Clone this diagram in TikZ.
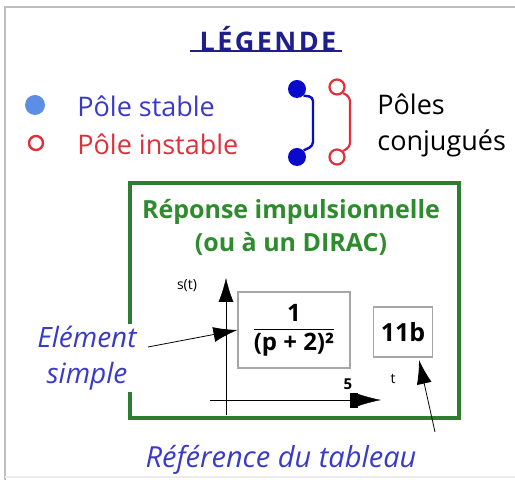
\documentclass[tikz,border=0pt]{standalone}
\usepackage{fontspec}
\setmainfont{Open Sans}
\usepackage{xcolor}
\usetikzlibrary{arrows.meta, positioning}

\definecolor{titleblue}{HTML}{1E1E8C}
\definecolor{textblue}{HTML}{3A3AC8}
\definecolor{dotblue}{HTML}{5C8EE6}
\definecolor{conjblue}{HTML}{0A0ACC}
\definecolor{polered}{HTML}{E0303C}
\definecolor{boxgreen}{HTML}{2E7D32}
\definecolor{textgreen}{HTML}{2E8B2E}

\begin{document}
\begin{tikzpicture}[x=0.5pt, y=-0.5pt, >=Latex,
    label/.style={inner sep=0pt, font=\fontsize{13.5}{15}\selectfont},
    pole/.style={circle, inner sep=0pt, minimum size=#1},
    bigarrow/.style={-{Latex[length=12pt,width=7.5pt]}, thin, black},
    axisarrow/.style={-{Rectangle[length=3.5pt,width=7pt] Latex[length=12pt,width=6.5pt]}, very thin, black},
    fracbox/.style={draw=gray!70, line width=0.6pt, inner sep=2pt, font=\bfseries}]
\useasboundingbox (0,0) rectangle (515,480);
% frame
\draw[gray!50, line width=1pt] (515,7) -- (5,7) -- (5,480);
\draw[gray!15, line width=1pt] (5,477) -- (515,477);

% title
\node[label, text=titleblue, font=\fontsize{13.5}{15}\selectfont\bfseries\addfontfeature{LetterSpace=9}] (title) at (268,39) {LÉGENDE};
\draw[titleblue, line width=0.9pt] (190,51) -- (342,51);

% legend of poles
\node[pole=10pt, fill=dotblue] (stable) at (35,105) {};
\node[pole=7pt, draw=polered, line width=1.2pt] (unstable) at (36,143) {};
\node[label, anchor=west, text=textblue] (stabletext) at (77,106) {Pôle stable};
\node[label, anchor=west, text=polered] (unstabletext) at (77,144) {Pôle instable};

% conjugate poles
\node[pole=9pt, fill=conjblue] (b1) at (297,89) {};
\node[pole=9pt, fill=conjblue] (b2) at (297,157) {};
\draw[conjblue, line width=1.2pt, rounded corners=2pt] (b1.south east) -- (313,97) -- (313,146) -- (b2.north east);
\node[pole=7.5pt, draw=polered, fill=white, line width=1.1pt] (r1) at (337,87) {};
\node[pole=7.5pt, draw=polered, fill=white, line width=1.1pt] (r2) at (337,157) {};
\draw[polered, line width=1.1pt, rounded corners=2pt] (r1.south east) -- (350,97) -- (350,147) -- (r2.north east);
\node[label, anchor=west] (conj1) at (377,104) {Pôles};
\node[label, anchor=west] (conj2) at (377,143) {conjugués};

% impulse response box
\draw[boxgreen, line width=1.6pt] (130,183) rectangle (459,418);
\node[label, text=textgreen, font=\fontsize{12.5}{14}\selectfont\bfseries] (resp1) at (291,212) {Réponse impulsionnelle};
\node[label, text=textgreen, font=\fontsize{12.5}{14}\selectfont\bfseries] (resp2) at (291,244) {(ou à un DIRAC)};

% axes
\coordinate (o1) at (226,415);
\coordinate (o2) at (210,400);
\coordinate (ytop) at (226,278);
\coordinate (xend) at (381,400);
\draw[bigarrow, very thin] (o1) -- (ytop);
\draw[axisarrow] (o2) -- (xend);
\node[label, font=\fontsize{7}{8}\selectfont] (ylab) at (187,286) {s(t)};
\node[label, font=\fontsize{7}{8}\selectfont] (xlab) at (393,379) {t};
\node[label, font=\fontsize{7.5}{8}\selectfont\bfseries] (five) at (348,384) {5};

% boxes
\node[fracbox, fill=white, minimum width=56pt, minimum height=38pt] (frac) at (294,330)
  {$\displaystyle\frac{\mbox{\fontsize{12}{14}\selectfont\bfseries 1}}{\mbox{\fontsize{12}{14}\selectfont\bfseries (p + 2)²}}$};
\node[fracbox, fill=white, minimum width=29.5pt, minimum height=25pt, font=\fontsize{12.5}{14}\selectfont\bfseries] (ref) at (403,332) {11b};

% labels with arrows
\node[label, fill=white, text=textblue, font=\fontsize{14}{16}\selectfont\itshape, align=center, inner sep=1pt] (elem) at (87,358) {Elément\\[2pt]simple};
\node[label, text=textblue, font=\fontsize{14.5}{16}\selectfont\itshape] (reftext) at (281,460) {Référence du tableau};
\coordinate (e0) at (148,347);
\coordinate (r0) at (435,432);
\coordinate (r1tip) at (419,360);
\draw[bigarrow] (e0) -- (frac.west);
\draw[bigarrow] (r0) -- (r1tip);
\end{tikzpicture}
\end{document}
